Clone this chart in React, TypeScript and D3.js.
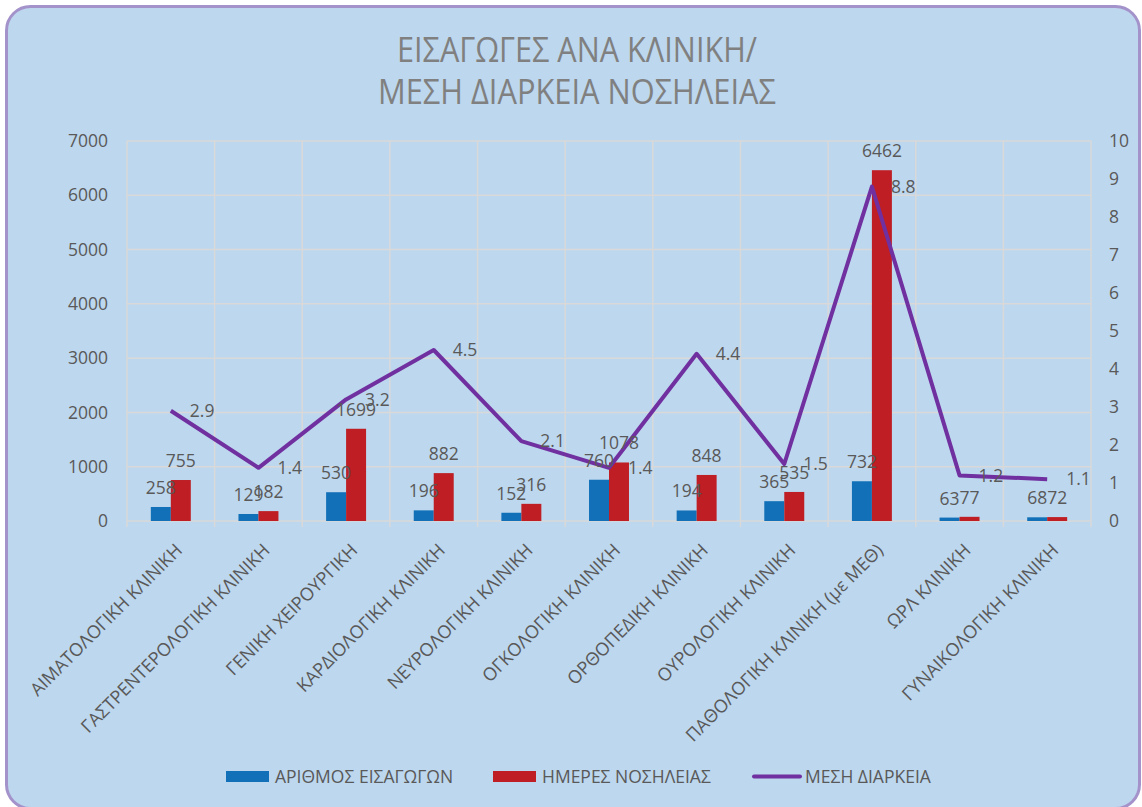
import React from "react";
import * as d3 from "d3";

const categories = [
  "ΑΙΜΑΤΟΛΟΓΙΚΗ ΚΛΙΝΙΚΗ",
  "ΓΑΣΤΡΕΝΤΕΡΟΛΟΓΙΚΗ ΚΛΙΝΙΚΗ",
  "ΓΕΝΙΚΗ ΧΕΙΡΟΥΡΓΙΚΗ",
  "ΚΑΡΔΙΟΛΟΓΙΚΗ ΚΛΙΝΙΚΗ",
  "ΝΕΥΡΟΛΟΓΙΚΗ ΚΛΙΝΙΚΗ",
  "ΟΓΚΟΛΟΓΙΚΗ ΚΛΙΝΙΚΗ",
  "ΟΡΘΟΠΕΔΙΚΗ ΚΛΙΝΙΚΗ",
  "ΟΥΡΟΛΟΓΙΚΗ ΚΛΙΝΙΚΗ",
  "ΠΑΘΟΛΟΓΙΚΗ ΚΛΙΝΙΚΗ (με ΜΕΘ)",
  "ΩΡΛ ΚΛΙΝΙΚΗ",
  "ΓΥΝΑΙΚΟΛΟΓΙΚΗ ΚΛΙΝΙΚΗ",
];
const admissions = [258, 129, 530, 196, 152, 760, 194, 365, 732, 63, 68];
const hospitalDays = [755, 182, 1699, 882, 316, 1078, 848, 535, 6462, 77, 72];
const meanDuration = [2.9, 1.4, 3.2, 4.5, 2.1, 1.4, 4.4, 1.5, 8.8, 1.2, 1.1];
const leftTicks = [0, 1000, 2000, 3000, 4000, 5000, 6000, 7000];
const rightTicks = [0, 1, 2, 3, 4, 5, 6, 7, 8, 9, 10];
const seriesNames = ["ΑΡΙΘΜΟΣ ΕΙΣΑΓΩΓΩΝ", "ΗΜΕΡΕΣ ΝΟΣΗΛΕΙΑΣ", "ΜΕΣΗ ΔΙΑΡΚΕΙΑ"];
const titleLines = ["ΕΙΣΑΓΩΓΕΣ ΑΝΑ ΚΛΙΝΙΚΗ/", "ΜΕΣΗ ΔΙΑΡΚΕΙΑ ΝΟΣΗΛΕΙΑΣ"];

const W = 1142;
const H = 807;
const BLUE = "#1170B8";
const RED = "#BE1E24";
const PURPLE = "#7030A0";
const GRID = "#D9D9D9";
const TXT = "#595959";
const FONT = "'Open Sans', 'Noto Sans', sans-serif";

export default function App() {
  const plot = { left: 127, right: 1091, top: 141, bottom: 521 };
  const x = d3.scaleBand<string>().domain(categories).range([plot.left, plot.right]).padding(0);
  const bw = x.bandwidth();
  const sub = d3
    .scaleBand<string>()
    .domain(["a", "b"])
    .range([bw * 0.272, bw * 0.728])
    .padding(0);
  const yL = d3.scaleLinear().domain([0, 7000]).range([plot.bottom, plot.top]);
  const yR = d3.scaleLinear().domain([0, 10]).range([plot.bottom, plot.top]);
  const cx = (i: number) => (x(categories[i]) as number) + bw / 2;

  const line = d3
    .line<number>()
    .x((_, i) => cx(i))
    .y((d) => yR(d));

  const boundaries = categories.map((c) => x(c) as number).concat([plot.right]);

  return (
    <div style={{ position: "absolute", left: 0, top: 0 }}>
      <svg width={W} height={H} style={{ display: "block" }} fontFamily={FONT}>
        <rect x={0} y={0} width={W} height={H} fill="#ffffff" />
        <rect
          x={6.5}
          y={6.5}
          width={W - 9}
          height={H - 5}
          rx={24}
          ry={24}
          fill="#BDD7EE"
          stroke="#A493CB"
          strokeWidth={3}
        />
        {/* title */}
        {titleLines.map((t, i) => (
          <text
            key={t}
            x={577}
            y={62 + i * 42}
            textAnchor="middle"
            fill="#808080"
            fontSize={35}
            fontFamily="'Liberation Sans Narrow', 'Open Sans', sans-serif"
            textLength={i === 0 ? 360 : 398}
            lengthAdjust="spacingAndGlyphs"
          >
            {t}
          </text>
        ))}
        {/* horizontal grid */}
        {leftTicks.map((t) => (
          <line
            key={"h" + t}
            x1={plot.left}
            x2={plot.right}
            y1={yL(t)}
            y2={yL(t)}
            stroke={GRID}
            strokeWidth={1.5}
          />
        ))}
        {/* vertical grid */}
        {boundaries.map((b, i) => (
          <line
            key={"v" + i}
            x1={b}
            x2={b}
            y1={plot.top}
            y2={plot.bottom + 6}
            stroke={GRID}
            strokeWidth={1.5}
          />
        ))}
        {/* left ticks */}
        {leftTicks.map((t) => (
          <text
            key={"lt" + t}
            x={108}
            y={yL(t)}
            dy="0.35em"
            textAnchor="end"
            fill={TXT}
            fontSize={17.5}
          >
            {t}
          </text>
        ))}
        {/* right ticks */}
        {rightTicks.map((t) => (
          <text
            key={"rt" + t}
            x={1109}
            y={yR(t)}
            dy="0.35em"
            textAnchor="start"
            fill={TXT}
            fontSize={17.5}
          >
            {t}
          </text>
        ))}
        {/* bars */}
        {categories.map((c, i) => {
          const x0 = x(c) as number;
          const bx = x0 + (sub("a") as number);
          const rx = x0 + (sub("b") as number);
          const sw = sub.bandwidth();
          return (
            <g key={"b" + i}>
              <rect x={bx} y={yL(admissions[i])} width={sw} height={plot.bottom - yL(admissions[i])} fill={BLUE} />
              <rect x={rx} y={yL(hospitalDays[i])} width={sw} height={plot.bottom - yL(hospitalDays[i])} fill={RED} />
            </g>
          );
        })}
        {/* line */}
        <path d={line(meanDuration) || ""} fill="none" stroke={PURPLE} strokeWidth={4} strokeLinejoin="round" />
        {/* bar labels */}
        {categories.map((c, i) => {
          const x0 = x(c) as number;
          const sw = sub.bandwidth();
          return (
            <g key={"bl" + i} fill={TXT} fontSize={17.5} textAnchor="middle">
              <text x={x0 + (sub("a") as number) + sw / 2} y={yL(admissions[i]) - 13}>
                {admissions[i]}
              </text>
              <text x={x0 + (sub("b") as number) + sw / 2} y={yL(hospitalDays[i]) - 13}>
                {hospitalDays[i]}
              </text>
            </g>
          );
        })}
        {/* line labels */}
        {meanDuration.map((v, i) => (
          <text key={"ll" + i} x={cx(i) + 19} y={yR(v)} dy="0.35em" fill={TXT} fontSize={17.5}>
            {v.toFixed(1)}
          </text>
        ))}
        {/* x labels */}
        {categories.map((c, i) => (
          <text
            key={"xl" + i}
            transform={`translate(${cx(i) + 8},${plot.bottom + 26}) rotate(-45)`}
            textAnchor="end"
            dy="0.35em"
            fill={TXT}
            fontSize={18}
          >
            {c}
          </text>
        ))}
        {/* legend */}
        <rect x={226} y={771} width={43} height={11} fill={BLUE} />
        <text x={275} y={776.5} dy="0.35em" fill={TXT} fontSize={17.5}>
          {seriesNames[0]}
        </text>
        <rect x={493} y={771} width={43} height={11} fill={RED} />
        <text x={542} y={776.5} dy="0.35em" fill={TXT} fontSize={17.5}>
          {seriesNames[1]}
        </text>
        <line x1={754} x2={800} y1={776.5} y2={776.5} stroke={PURPLE} strokeWidth={4} strokeLinecap="round" />
        <text x={805} y={776.5} dy="0.35em" fill={TXT} fontSize={17.5}>
          {seriesNames[2]}
        </text>
      </svg>
    </div>
  );
}
